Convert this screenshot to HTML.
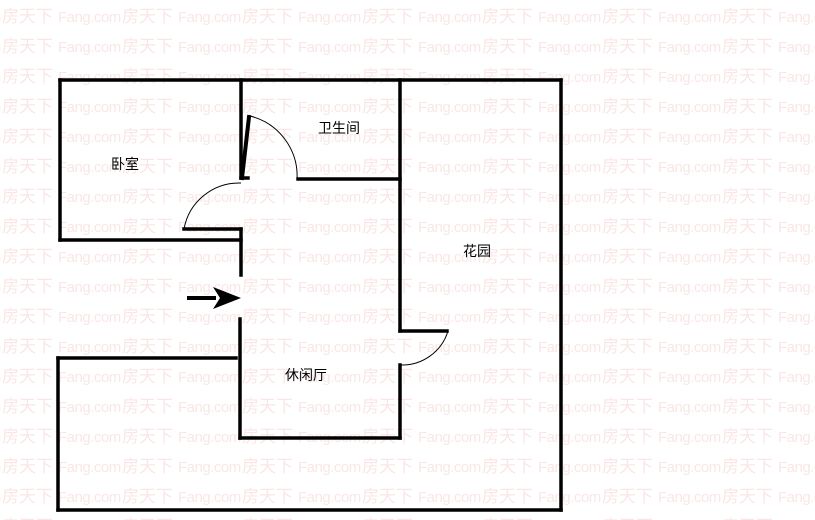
<!DOCTYPE html>
<html><head><meta charset="utf-8"><style>
html,body{margin:0;padding:0;background:#fff;}
svg{display:block;}
.wm{font-family:"Liberation Sans","Noto Sans CJK SC",sans-serif;fill:#fae6e6;}
.lb{font-family:"Liberation Sans","Noto Sans CJK SC",sans-serif;font-size:14px;fill:#000;}
</style></head><body>
<svg width="815" height="520" xmlns="http://www.w3.org/2000/svg">
<defs>
<pattern id="wmp" x="2" y="0" width="120" height="30" patternUnits="userSpaceOnUse">
<text class="wm" x="0" y="22" font-size="17">房天下</text>
<text class="wm" x="56" y="22" font-size="15" letter-spacing="-0.5">Fang.com</text>
</pattern>
</defs>
<rect x="0" y="0" width="815" height="520" fill="url(#wmp)"/>
<g stroke="#000" stroke-width="3.5" fill="none" stroke-linecap="square">
<line x1="60" y1="80" x2="561" y2="80"/>
<line x1="561" y1="80" x2="561" y2="510"/>
<line x1="58" y1="510" x2="561" y2="510"/>
<line x1="58" y1="358" x2="58" y2="510"/>
<line x1="58" y1="358" x2="236" y2="358"/>
<line x1="60" y1="80" x2="60" y2="240"/>
<line x1="60" y1="240" x2="241" y2="240"/>
<line x1="184" y1="229" x2="241" y2="229"/>
<line x1="241" y1="80" x2="241" y2="178"/>
<line x1="241" y1="178" x2="248" y2="178"/>
<line x1="242" y1="178" x2="249" y2="117" stroke-width="4"/>
<line x1="241" y1="229" x2="241" y2="275"/>
<line x1="240" y1="319" x2="240" y2="438"/>
<line x1="240" y1="438" x2="400" y2="438"/>
<line x1="400" y1="80" x2="400" y2="331"/>
<line x1="298" y1="179" x2="400" y2="179"/>
<line x1="400" y1="331" x2="447" y2="331"/>
<line x1="400" y1="365" x2="400" y2="438"/>
</g>
<g stroke="#000" stroke-width="1" fill="none">
<path d="M184 229 A56 56 0 0 1 241 183"/>
<path d="M250 116 A62 62 0 0 1 297 180"/>
<path d="M448 331 A48 48 0 0 1 400 365"/>
</g>
<line x1="187" y1="298" x2="216" y2="298" stroke="#000" stroke-width="4"/>
<polygon points="213,287 241,298 213,309 220,298" fill="#000"/>
<text class="lb" x="111" y="169">卧室</text>
<text class="lb" x="318" y="133">卫生间</text>
<text class="lb" x="463" y="256">花园</text>
<text class="lb" x="285" y="380">休闲厅</text>
</svg>
</body></html>
